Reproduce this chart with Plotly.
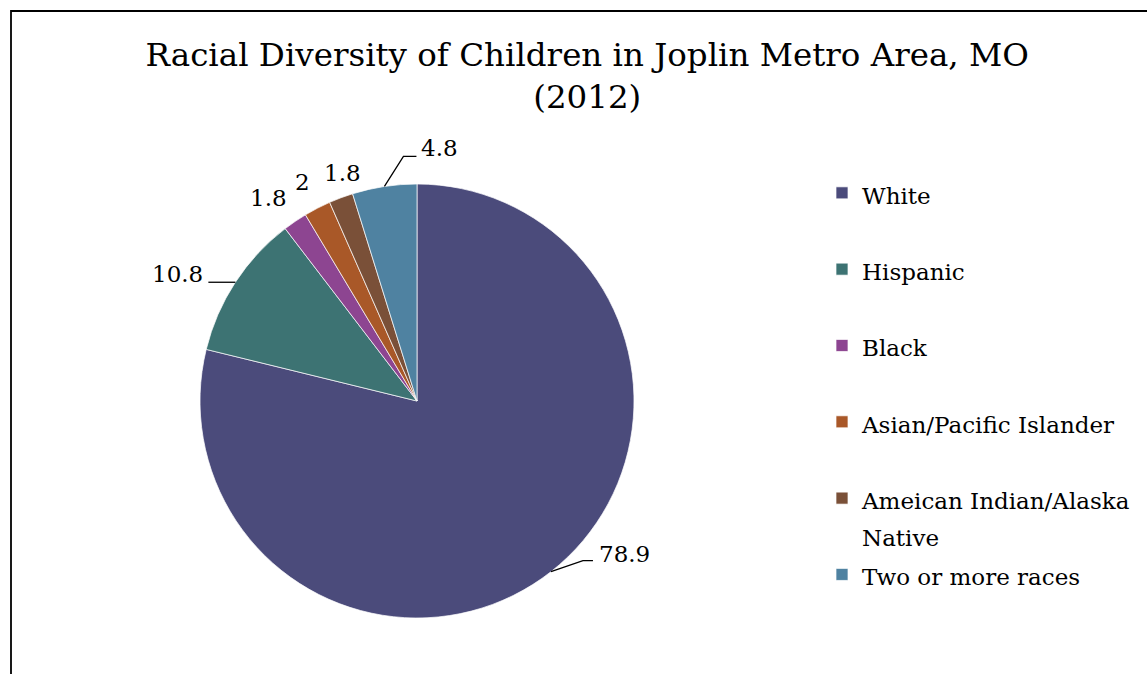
import math
import plotly.graph_objects as go

# ---------------- data ----------------
categories = ["White", "Hispanic", "Black", "Asian/Pacific Islander",
              "Ameican Indian/Alaska Native", "Two or more races"]
values = [78.9, 10.8, 1.8, 2, 1.8, 4.8]
value_labels = ["78.9", "10.8", "1.8", "2", "1.8", "4.8"]
colors = ["#4B4B7B", "#3D7373", "#8D4591", "#A95828", "#7A5038", "#4F82A1"]
title_lines = ["Racial Diversity of Children in Joplin Metro Area, MO", "(2012)"]

# ---------------- layout constants ----------------
W, H = 1147, 674
PIE_CX, PIE_CY, PIE_R = 417, 401, 217          # pixels
FONT = "DejaVu Serif"
LABEL_SIZE = 23
LEGEND_TEXT_SIZE = 23
LEGEND_SPACING_SIZE = 28.2                    # drives legend row spacing

# label placement relative to the slice's outer mid point (pixels)
label_styles = [
    dict(line=[(32, -11), (42, -11)], text=(46, -18), anchor="left"),
    dict(line=[(-27, 0)], text=(-30, -8), anchor="right"),
    dict(line=[], text=(-27, -23), anchor="center"),
    dict(line=[], text=(-15, -26), anchor="center"),
    dict(line=[], text=(1, -25), anchor="center"),
    dict(line=[(19, -30), (32, -30)], text=(35, -38), anchor="left"),
]


def px2paper(x, y):
    return x / W, 1 - y / H


def wrap(name, width=22):
    words, lines, cur = name.split(" "), [], ""
    for w in words:
        if cur and len(cur) + 1 + len(w) > width:
            lines.append(cur)
            cur = w
        else:
            cur = (cur + " " + w) if cur else w
    lines.append(cur)
    return lines


legend_labels = []
for c in categories:
    lines = wrap(c)
    while len(lines) < 2:
        lines.append("\u00a0")
    legend_labels.append("<br>".join(
        f"<span style='font-size:{LEGEND_TEXT_SIZE}px'>{l}</span>" for l in lines))

x0, y1 = px2paper(PIE_CX - PIE_R, PIE_CY - PIE_R)
x1, y0 = px2paper(PIE_CX + PIE_R, PIE_CY + PIE_R)

fig = go.Figure(go.Pie(
    labels=legend_labels,
    values=values,
    marker=dict(colors=colors, line=dict(color="white", width=0.7)),
    sort=False,
    direction="clockwise",
    rotation=0,
    textinfo="none",
    hoverinfo="label+value",
    domain=dict(x=[x0, x1], y=[y0, y1]),
))

# data labels with leader lines, computed from slice mid angles
total = sum(values)
cum = 0.0
shapes = []
annotations = []
for v, lab, st in zip(values, value_labels, label_styles):
    mid = (cum + v / 2) / total * 2 * math.pi
    cum += v
    px = PIE_CX + PIE_R * math.sin(mid)
    py = PIE_CY - PIE_R * math.cos(mid)
    if st["line"]:
        pts = [(px, py)] + [(px + dx, py + dy) for dx, dy in st["line"]]
        path = ""
        for i, (a, b) in enumerate(pts):
            xp, yp = px2paper(a, b)
            path += ("M" if i == 0 else " L") + f" {xp:.5f},{yp:.5f}"
        shapes.append(dict(type="path", path=path, xref="paper", yref="paper",
                           line=dict(color="black", width=1.3)))
    tx, ty = px2paper(px + st["text"][0], py + st["text"][1])
    annotations.append(dict(x=tx, y=ty, xref="paper", yref="paper", text=lab,
                            showarrow=False, xanchor=st["anchor"], yanchor="middle",
                            font=dict(family=FONT, size=LABEL_SIZE, color="black")))

# outer chart frame (left and top edges visible)
fx, fy = px2paper(11, 11)
shapes.append(dict(type="rect", xref="paper", yref="paper", x0=fx, y0=-0.05,
                   x1=1.05, y1=fy, line=dict(color="black", width=1.8),
                   fillcolor="rgba(0,0,0,0)"))

lx, ly = px2paper(822, 168)
fig.update_layout(
    width=W, height=H,
    margin=dict(l=0, r=0, t=0, b=0, autoexpand=False),
    paper_bgcolor="white",
    plot_bgcolor="white",
    title=dict(text="<br>".join(title_lines), x=0.512, xanchor="center",
               y=1 - 66 / H, yanchor="top",
               font=dict(family=FONT, size=32.5, color="black")),
    legend=dict(x=lx, y=ly, xanchor="left", yanchor="top", valign="top",
                font=dict(family=FONT, size=LEGEND_SPACING_SIZE, color="black"),
                bgcolor="rgba(0,0,0,0)", traceorder="normal"),
    shapes=shapes,
    annotations=annotations,
)

fig.write_html("out.html", config={"displayModeBar": False},
               post_script="document.body.style.margin='0';")
